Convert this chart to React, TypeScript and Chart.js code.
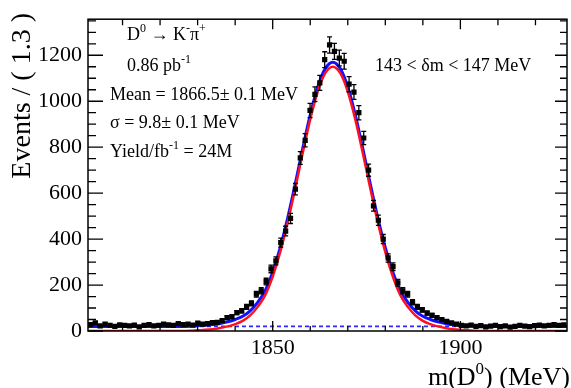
import React, { useEffect, useRef } from "react";
import { Chart, registerables } from "chart.js";

Chart.register(...registerables);

// ---- data ----
const binStart = 1800.8;
const binWidth = 1.3;
const counts = [
  28, 35, 22, 30, 25, 20, 27, 24, 22, 26, 18, 24, 28, 22, 25, 30, 27, 24, 32, 28, 30, 26, 34, 30,
  32, 36, 38, 45, 58, 62, 80, 88, 105, 120, 160, 175, 215, 270, 305, 385, 435, 490,
  617, 753, 830, 960, 1030, 1080, 1181, 1245, 1217, 1188, 1174, 1074, 1040, 950, 840, 700, 545, 482,
  400, 318, 280, 210, 175, 160, 125, 105, 92, 78, 68, 58, 50, 42, 35, 30,
  24, 22, 26, 20, 23, 18, 21, 25, 19, 22, 17, 20, 24, 21, 19, 23, 26, 22, 25, 28, 24, 27,
];

const curveStart = 1800;
const curveStep = 2;
const signalCurve = [
  0, 0, 0, 0, 0, 0, 0, 0, 0, 0, 0, 0, 0, 0,
  1, 3, 5, 8, 13, 20, 30, 44, 68, 105, 156, 237, 343, 473, 620, 775, 921, 1042, 1122, 1150,
  1122, 1042, 921, 775, 620, 473, 343, 237, 156, 105, 68, 44, 30, 20, 13, 8, 5, 3, 1,
  0, 0, 0, 0, 0, 0, 0, 0, 0, 0, 0, 0, 0,
];
const totalCurve = [
  20, 20, 20, 20, 20, 20, 20, 20, 20, 20, 20, 20, 20, 20,
  21, 23, 25, 28, 33, 40, 50, 64, 88, 125, 176, 257, 363, 493, 640, 795, 941, 1062, 1142, 1170,
  1142, 1062, 941, 795, 640, 493, 363, 257, 176, 125, 88, 64, 50, 40, 33, 28, 25, 23, 21,
  20, 20, 20, 20, 20, 20, 20, 20, 20, 20, 20, 20, 20,
];
const backgroundLevel = 20;

const xMin = 1800.8;
const xMax = 1928.4;
const yMin = 0;
const yMax = 1357;
const yMajorTicks = [0, 200, 400, 600, 800, 1000, 1200];
const yMinorTicks = [50, 100, 150, 250, 300, 350, 450, 500, 550, 650, 700, 750, 850, 900, 950, 1050, 1100, 1150, 1250, 1300, 1350];
const xMajorTicks = [1850, 1900];
const xMinorTicks = [1810, 1820, 1830, 1840, 1860, 1870, 1880, 1890, 1910, 1920];

const yTitle = "Events / ( 1.3 )";
const SERIF = '"Liberation Serif", "DejaVu Serif", serif';

type Seg = { t: string; sup?: boolean };

function segWidth(ctx: CanvasRenderingContext2D, segs: Seg[], size: number) {
  let w = 0;
  for (const s of segs) {
    ctx.font = `${s.sup ? Math.round(size * 0.65) : size}px ${SERIF}`;
    w += ctx.measureText(s.t).width;
  }
  return w;
}

function drawRich(ctx: CanvasRenderingContext2D, segs: Seg[], x: number, y: number, size: number) {
  let cx = x;
  ctx.textAlign = "left";
  ctx.textBaseline = "alphabetic";
  for (const s of segs) {
    const fs = s.sup ? Math.round(size * 0.65) : size;
    ctx.font = `${fs}px ${SERIF}`;
    ctx.fillText(s.t, cx, s.sup ? y - size * 0.42 : y);
    cx += ctx.measureText(s.t).width;
  }
}

const decorations = {
  id: "decorations",
  afterDatasetsDraw(chart: any) {
    const ctx: CanvasRenderingContext2D = chart.ctx;
    const xs = chart.scales.x;
    const ys = chart.scales.y;
    const { left, right, top, bottom } = chart.chartArea;
    ctx.save();
    ctx.beginPath();
    ctx.rect(left, top, right - left, bottom - top);
    ctx.clip();
    ctx.strokeStyle = "#000";
    ctx.lineWidth = 1.3;
    counts.forEach((c, i) => {
      const xc = xs.getPixelForValue(binStart + (i + 0.5) * binWidth);
      const e = Math.sqrt(c);
      const y1 = ys.getPixelForValue(c + e);
      const y2 = ys.getPixelForValue(Math.max(0, c - e));
      ctx.beginPath();
      ctx.moveTo(xc, y1);
      ctx.lineTo(xc, y2);
      ctx.moveTo(xc - 2.5, y1);
      ctx.lineTo(xc + 2.5, y1);
      ctx.moveTo(xc - 2.5, y2);
      ctx.lineTo(xc + 2.5, y2);
      ctx.stroke();
    });
    ctx.restore();
  },
  afterDraw(chart: any) {
    const ctx: CanvasRenderingContext2D = chart.ctx;
    const xs = chart.scales.x;
    const ys = chart.scales.y;
    const { left, right, top, bottom } = chart.chartArea;
    ctx.save();
    ctx.strokeStyle = "#000";
    ctx.lineWidth = 1.5;
    ctx.strokeRect(left, top, right - left, bottom - top);
    ctx.lineWidth = 1.3;
    ctx.beginPath();
    const yTick = (v: number, lenL: number, lenR: number) => {
      const p = ys.getPixelForValue(v);
      ctx.moveTo(left, p);
      ctx.lineTo(left + lenL, p);
      ctx.moveTo(right, p);
      ctx.lineTo(right - lenR, p);
    };
    yMajorTicks.forEach((v) => yTick(v, 15, 12));
    yMinorTicks.forEach((v) => yTick(v, 8, 7));
    const xTick = (v: number, lenB: number, lenT: number) => {
      const p = xs.getPixelForValue(v);
      ctx.moveTo(p, bottom);
      ctx.lineTo(p, bottom - lenB);
      ctx.moveTo(p, top);
      ctx.lineTo(p, top + lenT);
    };
    xMajorTicks.forEach((v) => xTick(v, 10, 10));
    xMinorTicks.forEach((v) => xTick(v, 5, 6));
    ctx.stroke();

    ctx.fillStyle = "#000";
    // annotations
    const fs = 18;
    drawRich(ctx, [{ t: "D" }, { t: "0", sup: true }, { t: " \u2192 K" }, { t: "-", sup: true }, { t: "\u03c0" }, { t: "+", sup: true }], 127, 40, fs);
    drawRich(ctx, [{ t: "0.86 pb" }, { t: "-1", sup: true }], 127, 70.5, fs);
    drawRich(ctx, [{ t: "Mean = 1866.5\u00b1 0.1 MeV" }], 110, 100, fs);
    drawRich(ctx, [{ t: "\u03c3 = 9.8\u00b1 0.1 MeV" }], 110, 128, fs);
    drawRich(ctx, [{ t: "Yield/fb" }, { t: "-1", sup: true }, { t: " = 24M" }], 110, 156.5, fs);
    drawRich(ctx, [{ t: "143 < \u03b4m < 147 MeV" }], 375, 71, fs);

    // x title
    const xt: Seg[] = [{ t: "m(D" }, { t: "0", sup: true }, { t: ") (MeV)" }];
    const w = segWidth(ctx, xt, 26);
    drawRich(ctx, xt, 570 - w, 385, 26);

    // y title
    ctx.save();
    ctx.translate(23, 13);
    ctx.rotate(-Math.PI / 2);
    ctx.font = `28px ${SERIF}`;
    ctx.textAlign = "right";
    ctx.textBaseline = "middle";
    ctx.fillText(yTitle, 0, 0);
    ctx.restore();
    ctx.restore();
  },
};

export default function App() {
  const ref = useRef<HTMLCanvasElement | null>(null);
  useEffect(() => {
    if (!ref.current) return;
    const points = counts.map((c, i) => ({ x: binStart + (i + 0.5) * binWidth, y: c }));
    const sig = signalCurve.map((v, i) => ({ x: curveStart + i * curveStep, y: v }));
    const tot = totalCurve.map((v, i) => ({ x: curveStart + i * curveStep, y: v }));
    const bg = [
      { x: xMin, y: backgroundLevel },
      { x: xMax, y: backgroundLevel },
    ];
    const chart = new Chart(ref.current, {
      type: "line",
      data: {
        datasets: [
          {
            label: "data",
            data: points,
            showLine: false,
            pointStyle: "rect",
            pointRadius: 3.7,
            pointBackgroundColor: "#000",
            pointBorderColor: "#000",
            pointBorderWidth: 0,
            order: 0,
          } as any,
          {
            label: "signal",
            data: sig,
            borderColor: "#ff1020",
            borderWidth: 2.5,
            pointRadius: 0,
            cubicInterpolationMode: "monotone",
            order: 1,
          },
          {
            label: "total",
            data: tot,
            borderColor: "#1010ff",
            borderWidth: 3,
            pointRadius: 0,
            cubicInterpolationMode: "monotone",
            order: 2,
          },
          {
            label: "background",
            data: bg,
            borderColor: "#2a2aff",
            borderWidth: 1.6,
            borderDash: [4, 3],
            pointRadius: 0,
            order: 3,
          },
        ],
      },
      options: {
        animation: false,
        responsive: false,
        devicePixelRatio: 1,
        layout: { padding: { top: 13, right: 1, left: 0, bottom: 0 } },
        plugins: { legend: { display: false }, tooltip: { enabled: false } },
        scales: {
          x: {
            type: "linear",
            min: xMin,
            max: xMax,
            afterFit: (s: any) => {
              s.height = 57;
            },
            afterBuildTicks: (s: any) => {
              s.ticks = xMajorTicks.map((v) => ({ value: v }));
            },
            grid: { display: false, drawTicks: false },
            border: { display: false },
            ticks: {
              font: { family: SERIF, size: 22 },
              color: "#000",
              padding: 4,
              maxRotation: 0,
              autoSkip: false,
              callback: (v: any) => String(v),
            },
          },
          y: {
            type: "linear",
            min: yMin,
            max: yMax,
            afterFit: (s: any) => {
              s.width = 88;
            },
            afterBuildTicks: (s: any) => {
              s.ticks = yMajorTicks.map((v) => ({ value: v }));
            },
            grid: { display: false, drawTicks: false },
            border: { display: false },
            ticks: {
              font: { family: SERIF, size: 22 },
              color: "#000",
              padding: 6,
              autoSkip: false,
              callback: (v: any) => String(v),
            },
          },
        },
      } as any,
      plugins: [decorations],
    });
    return () => chart.destroy();
  }, []);
  return (
    <div style={{ position: "absolute", left: 0, top: 0, width: 571, height: 388, background: "#fff" }}>
      <canvas ref={ref} width={571} height={388} style={{ width: 571, height: 388, display: "block" }} />
    </div>
  );
}
